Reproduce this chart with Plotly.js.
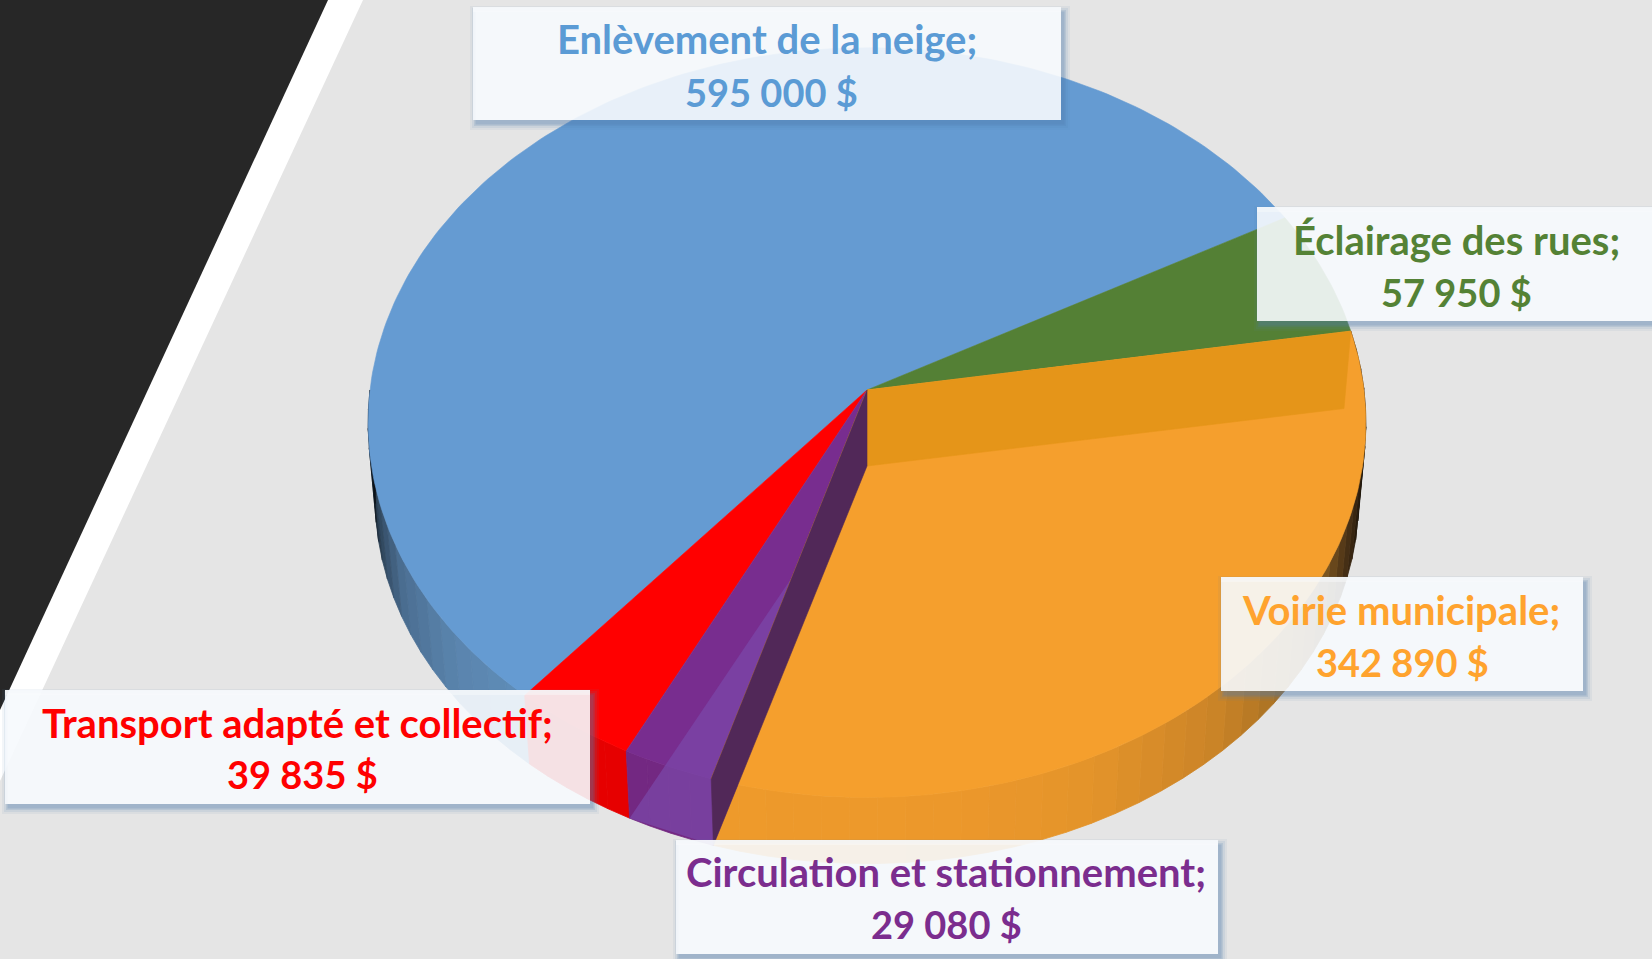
<!DOCTYPE html>
<html><head><meta charset="utf-8">
<script src="https://cdn.plot.ly/plotly-3.0.1.min.js"></script>
<style>html,body{margin:0;padding:0;background:#e5e5e5}#c{width:1652px;height:959px}</style></head>
<body><div id="c"></div>
<script>
// --- data ---
const categories = ["Enlèvement de la neige", "Éclairage des rues", "Voirie municipale", "Circulation et stationnement", "Transport adapté et collectif"];
const values = [595000, 57950, 342890, 29080, 39835];
const amountLabels = ["595 000 $", "57 950 $", "342 890 $", "29 080 $", "39 835 $"];
const sliceColors = ["#659bd2", "#548035", "#f59f2d", "#782d8f", "#ff0000"];
const textColors = ["#5b9bd5", "#548235", "#ffa32e", "#7b2d8e", "#ff0000"];
const wallColors = ["#4f7aa5", "#548035", "#ee9a2b", "#732882", "#e60000"];
const firstSliceStart = 220;   // degrees clockwise from 12 o'clock

// --- projection of the tilted pie ---
const top3d = {cx: 867, cy: 390, bx: 497, by: 372, k: 0.087};
const bot3d = {cx: 867, cy: 466, bx: 490, by: 363, k: 0.087};
function proj(d, deg) {
  const t = deg * Math.PI / 180, px = Math.sin(t), py = Math.cos(t), w = 1 + d.k * py;
  return [d.cx + d.bx * px / w, d.cy - d.by * py / w];
}
function arc(d, a, b) {
  const n = Math.max(2, Math.ceil(Math.abs(b - a))), pts = [];
  for (let i = 0; i <= n; i++) pts.push(proj(d, a + (b - a) * i / n));
  return pts;
}
const total = values.reduce((s, v) => s + v, 0);
let acc = firstSliceStart;
const spans = values.map(v => { const s = acc; acc += v / total * 360; return [s, acc]; });

const traces = [];
function poly(pts, color, name, w) {
  traces.push({type: "scatter", mode: "lines", x: pts.map(p => p[0]).concat(pts[0][0]), y: pts.map(p => p[1]).concat(pts[0][1]),
    fill: "toself", fillcolor: color, line: {color: color, width: w === undefined ? 0.6 : w}, name: name, hoverinfo: "name", showlegend: false});
}
function hex(c) { return [1, 3, 5].map(i => parseInt(c.substr(i, 2), 16)); }
function ramp(stops, a) {
  a = a % 360;
  if (a <= stops[0][0]) return stops[0][1];
  for (let i = 1; i < stops.length; i++) if (a <= stops[i][0]) {
    const f = (a - stops[i - 1][0]) / (stops[i][0] - stops[i - 1][0]), p = hex(stops[i - 1][1]), q = hex(stops[i][1]);
    return "rgb(" + p.map((v, j) => Math.round(v + (q[j] - v) * f)).join(",") + ")";
  }
  return stops[stops.length - 1][1];
}
function wall(a, b, colorAt, name) {
  const step = 3, n = Math.ceil(Math.abs(b - a) / step);
  for (let i = 0; i < n; i++) {
    const u = a + (b - a) * i / n, v = a + (b - a) * (i + 1) / n;
    poly(arc(top3d, u, v).concat(arc(bot3d, v, u)), colorAt((u + v) / 2), name, 0.8);
  }
}
const [blue, green, orange, purple, red] = spans;
const blueWallStops = [[220, "#5f8db8"], [232, "#5a84ad"], [245, "#4a6d90"], [256, "#2c4156"], [264, "#10181f"], [270, "#000000"]];
const orangeWallStops = [[92, "#0c0805"], [100, "#1c140a"], [110, "#4a3216"], [118, "#7a5420"], [125, "#a06c22"], [138, "#c98327"], [155, "#e3932a"], [170, "#ec982b"], [197, "#ee9a2b"]];

// outer walls
wall(blue[0], 270, a => ramp(blueWallStops, a), categories[0]);
wall(orange[0], orange[1], a => ramp(orangeWallStops, a), categories[2]);
wall(red[0], red[1], () => wallColors[4], categories[4]);
wall(purple[0], purple[1], () => wallColors[3], categories[3]);

const apex = [top3d.cx, top3d.cy], apexB = [bot3d.cx, bot3d.cy];
// top faces
poly([apex].concat(arc(top3d, blue[0], blue[1])), sliceColors[0], categories[0]);
poly([apex].concat(arc(top3d, green[0], green[1])), sliceColors[1], categories[1]);
poly([apex].concat(arc(top3d, red[0], red[1])), sliceColors[4], categories[4]);
poly([apex].concat(arc(top3d, purple[0], purple[1])), sliceColors[3], categories[3]);
// lighter floor of the purple slice seen through the opening
poly([apexB, proj(bot3d, purple[1]), proj(bot3d, purple[0])], "rgba(123,72,170,0.7)", categories[3], 0);
poly([apex].concat(arc(top3d, orange[0], orange[1])), sliceColors[2], categories[2]);
// inner cut walls
poly([apex, proj(top3d, orange[0]), proj(bot3d, orange[0]), apexB], "#e59519", categories[2]);
poly([apex, proj(top3d, orange[1]), proj(bot3d, orange[1]), apexB], "#512858", categories[3]);

// --- label boxes (left, right, top, bottom) and text centres ---
const boxes = [[473, 1061, 7, 120], [1257, 1660, 207, 321], [1221, 1583, 577, 691], [676, 1218, 840, 954], [5, 590, 690, 804]];
const labelX = [767, 1456, 1401, 946, 297];
const amountX = [771, 1456, 1402, 946, 302];
const textY = [[39, 92], [240, 292], [610, 662], [872, 924], [723, 774]];
const labelSize = 40, amountSize = 38;

const shapes = [
  {type: "path", layer: "below", path: "M0,0 L363,0 L0,781 Z", fillcolor: "#ffffff", line: {width: 0}},
  {type: "path", layer: "below", path: "M0,0 L328,0 L0,710 Z", fillcolor: "#272727", line: {width: 0}}
];
function rectPath(l, r, t, b) { return "M" + l + "," + t + "H" + r + "V" + b + "H" + l + "Z"; }
const annotations = [];
boxes.forEach((b, i) => {
  [[7, 0.07], [5, 0.10], [3, 0.16], [1.5, 0.22]].forEach(s => shapes.push({type: "path", layer: "above", fillrule: "evenodd",
    path: rectPath(b[0] + 4 - s[0], b[1] + 2 + s[0], b[2] + 6 - s[0], b[3] + 3 + s[0]) + rectPath(b[0], b[1], b[2], b[3]),
    fillcolor: "rgba(80,125,175," + s[1] + ")", line: {width: 0}}));
  shapes.push({type: "rect", layer: "above", x0: b[0], x1: b[1], y0: b[2], y1: b[3], fillcolor: "rgba(246,249,253,0.9)", line: {width: 0}});
  shapes.push({type: "rect", layer: "above", x0: b[0], x1: b[1], y0: b[2], y1: b[2] + 5, fillcolor: "rgba(255,255,255,0.35)", line: {width: 0}});
  [[categories[i] + ";", labelX[i], labelSize], [amountLabels[i], amountX[i], amountSize]].forEach((t, j) => annotations.push({
    x: t[1], y: textY[i][j], xref: "x", yref: "y", text: "<b>" + t[0] + "</b>", showarrow: false,
    xanchor: "center", yanchor: "middle", font: {family: "Lato, sans-serif", size: t[2], color: textColors[i]}
  }));
});

Plotly.newPlot("c", traces, {
  width: 1652, height: 959, margin: {l: 0, r: 0, t: 0, b: 0},
  paper_bgcolor: "#e5e5e5", plot_bgcolor: "rgba(0,0,0,0)", showlegend: false,
  xaxis: {range: [0, 1652], visible: false, fixedrange: true},
  yaxis: {range: [959, 0], visible: false, fixedrange: true},
  shapes: shapes, annotations: annotations
}, {displayModeBar: false, staticPlot: true});
</script></body></html>
